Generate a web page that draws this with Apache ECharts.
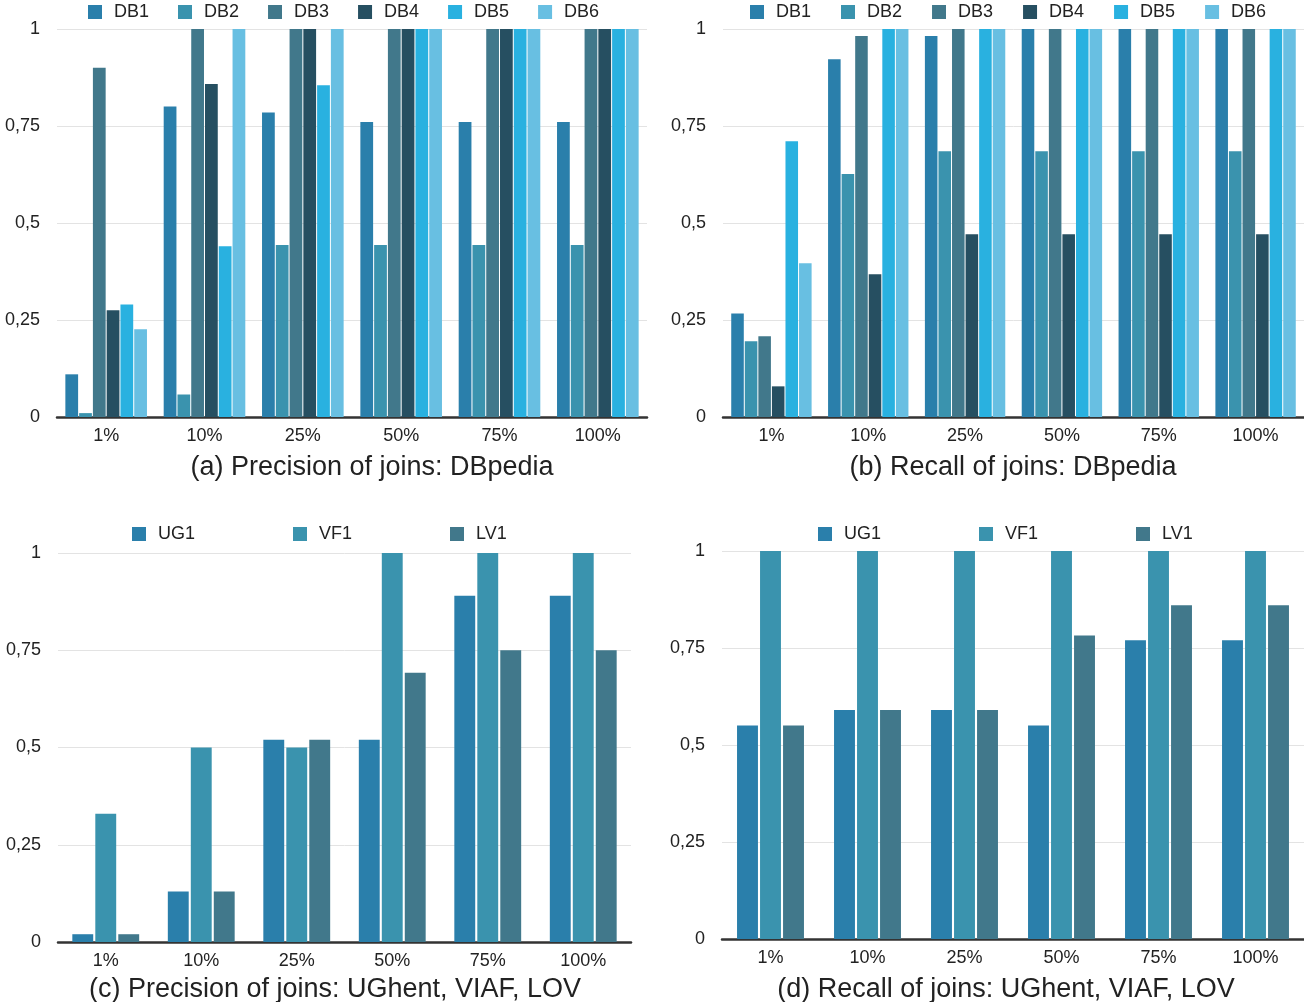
<!DOCTYPE html>
<html>
<head>
<meta charset="utf-8">
<script src="https://cdn.jsdelivr.net/npm/echarts@6/dist/echarts.min.js"></script>
<style>
  html, body { margin: 0; padding: 0; background: #fff; }
  #chart { width: 1304px; height: 1002px; }
</style>
</head>
<body>
<div id="chart"></div>
<script>
// categories (sample sizes)
var categories = ['1%', '10%', '25%', '50%', '75%', '100%'];
var yTicks = [0, 0.25, 0.5, 0.75, 1];

// (a) precision DBpedia
var dbNames = ['DB1', 'DB2', 'DB3', 'DB4', 'DB5', 'DB6'];
var precDB1 = [0.11, 0.80, 0.785, 0.76, 0.76, 0.76];
var precDB2 = [0.01, 0.058, 0.443, 0.443, 0.443, 0.443];
var precDB3 = [0.90, 1, 1, 1, 1, 1];
var precDB4 = [0.275, 0.858, 1, 1, 1, 1];
var precDB5 = [0.29, 0.44, 0.855, 1, 1, 1];
var precDB6 = [0.226, 1, 1, 1, 1, 1];

// (b) recall DBpedia
var recDB1 = [0.267, 0.922, 0.982, 1, 1, 1];
var recDB2 = [0.195, 0.626, 0.685, 0.685, 0.685, 0.685];
var recDB3 = [0.208, 0.982, 1, 1, 1, 1];
var recDB4 = [0.079, 0.368, 0.471, 0.471, 0.471, 0.471];
var recDB5 = [0.711, 1, 1, 1, 1, 1];
var recDB6 = [0.396, 1, 1, 1, 1, 1];

// (c) precision UGhent, VIAF, LOV
var otherNames = ['UG1', 'VF1', 'LV1'];
var precUG1 = [0.02, 0.13, 0.52, 0.52, 0.89, 0.89];
var precVF1 = [0.33, 0.5, 0.5, 1, 1, 1];
var precLV1 = [0.02, 0.13, 0.52, 0.692, 0.75, 0.75];

// (d) recall UGhent, VIAF, LOV
var recUG1 = [0.55, 0.59, 0.59, 0.55, 0.77, 0.77];
var recVF1 = [1, 1, 1, 1, 1, 1];
var recLV1 = [0.55, 0.59, 0.59, 0.782, 0.86, 0.86];

var dbColors = ['#2a7fab', '#3a93ae', '#41788b', '#264f61', '#29b1e0', '#68bfe2'];
var otherColors = ['#2a7fab', '#3a93ae', '#41788b'];

var font = 'Liberation Sans, Arial, Helvetica, sans-serif';
var txt = '#222';

var panels = [
  { title: '(a) Precision of joins: DBpedia', names: dbNames, colors: dbColors,
    data: [precDB1, precDB2, precDB3, precDB4, precDB5, precDB6],
    grid: { left: 57, top: 29, width: 590, height: 388 },
    legend: { left: 88, top: 3, itemGap: 29 }, titlePos: [367, 449],
    catGap: '17%', barGap: '8%' },
  { title: '(b) Recall of joins: DBpedia', names: dbNames, colors: dbColors,
    data: [recDB1, recDB2, recDB3, recDB4, recDB5, recDB6],
    grid: { left: 723, top: 29, width: 581, height: 388 },
    legend: { left: 750, top: 3, itemGap: 30 }, titlePos: [1008, 449],
    catGap: '17%', barGap: '8%' },
  { title: '(c) Precision of joins: UGhent, VIAF, LOV', names: otherNames, colors: otherColors,
    data: [precUG1, precVF1, precLV1],
    grid: { left: 58, top: 553, width: 573, height: 389 },
    legend: { left: 132, top: 525, itemGap: 98 }, titlePos: [330, 971],
    catGap: '30%', barGap: '10%' },
  { title: '(d) Recall of joins: UGhent, VIAF, LOV', names: otherNames, colors: otherColors,
    data: [recUG1, recVF1, recLV1],
    grid: { left: 722, top: 551, width: 582, height: 388 },
    legend: { left: 818, top: 525, itemGap: 98 }, titlePos: [1001, 971],
    catGap: '31%', barGap: '10%' }
];

var option = {
  animation: false,
  backgroundColor: '#fff',
  textStyle: { fontFamily: font },
  title: [], legend: [], grid: [], xAxis: [], yAxis: [], series: []
};

panels.forEach(function (p, i) {
  option.grid.push(p.grid);
  option.title.push({
    text: p.title, left: p.titlePos[0], top: p.titlePos[1], textAlign: 'center',
    textStyle: { fontFamily: font, fontSize: 27, fontWeight: 'normal', color: txt }
  });
  option.legend.push({
    data: p.names, left: p.legend.left, top: p.legend.top, itemGap: p.legend.itemGap,
    padding: 0, width: 560, icon: 'rect', itemWidth: 14, itemHeight: 14,
    textStyle: { fontFamily: font, fontSize: 18, color: txt, padding: [0, 0, 0, 7] }
  });
  option.xAxis.push({
    type: 'category', gridIndex: i, data: categories,
    axisLine: { lineStyle: { color: '#333', width: 2.5 } },
    axisTick: { show: false },
    axisLabel: { fontFamily: font, fontSize: 18, color: txt, margin: 10 }
  });
  option.yAxis.push({
    type: 'value', gridIndex: i, min: 0, max: 1, interval: 0.25,
    axisLine: { show: false }, axisTick: { show: false },
    splitLine: { lineStyle: { color: '#e3e3e3', width: 1 } },
    axisLabel: {
      fontFamily: font, fontSize: 18, color: txt, margin: 17,
      formatter: function (v) {
        return yTicks.indexOf(v) >= 0 ? String(v).replace('.', ',') : '';
      }
    }
  });
  p.names.forEach(function (n, k) {
    option.series.push({
      type: 'bar', name: n, xAxisIndex: i, yAxisIndex: i,
      data: p.data[k], barGap: p.barGap, barCategoryGap: p.catGap,
      itemStyle: { color: p.colors[k] }
    });
  });
});

var myChart = echarts.init(document.getElementById('chart'));
myChart.setOption(option);
</script>
</body>
</html>
